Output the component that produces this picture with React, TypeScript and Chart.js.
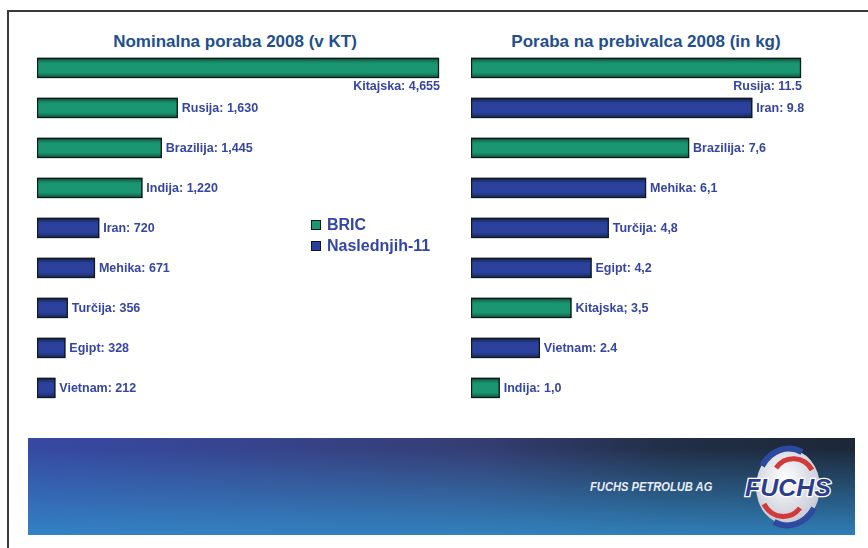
import React, { useEffect, useRef } from "react";
import { Chart, registerables } from "chart.js";

Chart.register(...registerables);

// ---- Data ----
const leftTitle = "Nominalna poraba 2008 (v KT)";
const leftCategories = ["Kitajska", "Rusija", "Brazilija", "Indija", "Iran", "Mehika", "Turčija", "Egipt", "Vietnam"];
const leftValues = [4655, 1630, 1445, 1220, 720, 671, 356, 328, 212];
const leftGroups = ["BRIC", "BRIC", "BRIC", "BRIC", "N11", "N11", "N11", "N11", "N11"];
const leftLabels = ["Kitajska: 4,655", "Rusija: 1,630", "Brazilija: 1,445", "Indija: 1,220", "Iran: 720", "Mehika: 671", "Turčija: 356", "Egipt: 328", "Vietnam: 212"];

const rightTitle = "Poraba na prebivalca 2008 (in kg)";
const rightCategories = ["Rusija", "Iran", "Brazilija", "Mehika", "Turčija", "Egipt", "Kitajska", "Vietnam", "Indija"];
const rightValues = [11.5, 9.8, 7.6, 6.1, 4.8, 4.2, 3.5, 2.4, 1.0];
const rightGroups = ["BRIC", "N11", "BRIC", "N11", "N11", "N11", "BRIC", "N11", "BRIC"];
const rightLabels = ["Rusija: 11.5", "Iran: 9.8", "Brazilija: 7,6", "Mehika: 6,1", "Turčija: 4,8", "Egipt: 4,2", "Kitajska; 3,5", "Vietnam: 2.4", "Indija: 1,0"];

const legendKeys = ["BRIC", "N11"];
const legendNames = ["BRIC", "Naslednjih-11"];

const groupColors: Record<string, string> = { BRIC: "#1a9670", N11: "#2b419c" };
const FONT = "'Liberation Sans', Arial, Helvetica, sans-serif";
const LABEL_COLOR = "#3545a3";

const barDecor = {
  id: "barDecor",
  afterDatasetsDraw(chart: any, _args: any, opts: any) {
    const ctx = chart.ctx as CanvasRenderingContext2D;
    const meta = chart.getDatasetMeta(0);
    const labels: string[] = opts.labels || [];
    meta.data.forEach((el: any, i: number) => {
      const { x, y, base, height } = el.getProps(["x", "y", "base", "height"], true);
      const top = y - height / 2;
      const left = Math.min(base, x);
      const w = Math.abs(x - base);
      ctx.save();
      const g = ctx.createLinearGradient(0, top, 0, top + height);
      g.addColorStop(0, "rgba(0,0,0,0.45)");
      g.addColorStop(0.28, "rgba(0,0,0,0)");
      g.addColorStop(0.72, "rgba(0,0,0,0)");
      g.addColorStop(1, "rgba(0,0,0,0.45)");
      ctx.fillStyle = g;
      ctx.fillRect(left, top, w, height);
      ctx.strokeStyle = "#0d1a1a";
      ctx.lineWidth = 1.3;
      ctx.strokeRect(left + 0.5, top + 0.5, w - 1, height - 1);
      ctx.strokeStyle = "#a8a8a8";
      ctx.lineWidth = 1;
      ctx.beginPath();
      ctx.moveTo(left - 0.5, top + height);
      ctx.lineTo(left - 0.5, top - 0.5);
      ctx.lineTo(left + w, top - 0.5);
      ctx.stroke();
      // label
      ctx.fillStyle = LABEL_COLOR;
      ctx.font = `bold 12.5px ${FONT}`;
      ctx.textBaseline = "middle";
      if (i === 0) {
        ctx.textAlign = "right";
        ctx.fillText(labels[i] || "", x + 1, y + 19);
      } else {
        ctx.textAlign = "left";
        ctx.fillText(labels[i] || "", x + 4, y + 0.5);
      }
      ctx.restore();
    });
  },
};

function BarChart(props: {
  categories: string[];
  values: number[];
  groups: string[];
  labels: string[];
  max: number;
  width: number;
  height: number;
  padRight: number;
  style: React.CSSProperties;
}) {
  const ref = useRef<HTMLCanvasElement | null>(null);
  useEffect(() => {
    if (!ref.current) return;
    const chart = new Chart(ref.current, {
      type: "bar",
      data: {
        labels: props.categories,
        datasets: [
          {
            data: props.values,
            backgroundColor: props.groups.map((g) => groupColors[g]),
            borderWidth: 0,
            categoryPercentage: 1,
            barPercentage: 0.5,
          },
        ],
      },
      options: {
        indexAxis: "y",
        animation: false,
        responsive: false,
        layout: { padding: { left: 0, right: props.padRight, top: 0, bottom: 0 } },
        scales: {
          x: { display: false, min: 0, max: props.max },
          y: { display: false },
        },
        plugins: {
          legend: { display: false },
          tooltip: { enabled: false },
          barDecor: { labels: props.labels },
        } as any,
      },
      plugins: [barDecor],
    });
    return () => chart.destroy();
  }, []);
  return <canvas ref={ref} width={props.width} height={props.height} style={{ position: "absolute", ...props.style }} />;
}

function Logo() {
  return (
    <svg width={96} height={86} viewBox="0 0 96 86" style={{ position: "absolute", left: 740, top: 444 }}>
      <defs>
        <radialGradient id="lg" cx="45%" cy="40%" r="60%">
          <stop offset="0%" stopColor="#ffffff" />
          <stop offset="100%" stopColor="#c6cad6" />
        </radialGradient>
      </defs>
      <ellipse cx={48} cy={43} rx={32} ry={38} fill="url(#lg)" />
      <path d="M 22 22 A 32 38 0 0 1 62 8" fill="none" stroke="#2d4aa0" strokeWidth={6} />
      <path d="M 36 24 A 22 24 0 0 1 72 26" fill="none" stroke="#d23a3a" strokeWidth={5} />
      <path d="M 24 60 A 22 24 0 0 0 60 64" fill="none" stroke="#d23a3a" strokeWidth={5} />
      <path d="M 34 78 A 32 38 0 0 0 74 64" fill="none" stroke="#2d4aa0" strokeWidth={6} />
      <text
        x={48}
        y={52}
        textAnchor="middle"
        fontFamily={FONT}
        fontWeight="bold"
        fontStyle="italic"
        fontSize={24}
        textLength={86}
        lengthAdjust="spacingAndGlyphs"
        fill="#2c3d8c"
        stroke="#ffffff"
        strokeWidth={2.5}
        paintOrder="stroke"
      >
        FUCHS
      </text>
    </svg>
  );
}

export default function App() {
  const titleStyle: React.CSSProperties = {
    position: "absolute",
    top: 32,
    width: 400,
    textAlign: "center",
    fontFamily: FONT,
    fontWeight: "bold",
    fontSize: 17,
    lineHeight: "20px",
    color: "#1f4f8f",
    whiteSpace: "nowrap",
  };
  return (
    <div style={{ position: "absolute", left: 0, top: 0, width: 868, height: 548, background: "#ffffff", overflow: "hidden" }}>
      <div style={{ position: "absolute", left: 7, top: 10, right: -4, bottom: -4, borderTop: "2px solid #3a3a3a", borderLeft: "2px solid #3a3a3a" }} />
      <div style={{ ...titleStyle, left: 235 - 200 }}>{leftTitle}</div>
      <div style={{ ...titleStyle, left: 646 - 200 }}>{rightTitle}</div>
      <BarChart
        categories={leftCategories}
        values={leftValues}
        groups={leftGroups}
        labels={leftLabels}
        max={4655}
        width={410}
        height={360}
        padRight={8}
        style={{ left: 37, top: 48 }}
      />
      <BarChart
        categories={rightCategories}
        values={rightValues}
        groups={rightGroups}
        labels={rightLabels}
        max={11.5}
        width={345}
        height={360}
        padRight={15}
        style={{ left: 471, top: 48 }}
      />
      {legendKeys.map((k, i) => (
        <div key={k} style={{ position: "absolute", left: 311, top: 215 + i * 21, height: 20, display: "flex", alignItems: "center" }}>
          <div style={{ width: 8, height: 8, background: groupColors[k], border: "1px solid #101818", marginRight: 6 }} />
          <span style={{ fontFamily: FONT, fontWeight: "bold", fontSize: 16, color: "#3446a5", whiteSpace: "nowrap" }}>{legendNames[i]}</span>
        </div>
      ))}
      <div
        style={{
          position: "absolute",
          left: 28,
          top: 438,
          width: 827,
          height: 97,
          background:
            "linear-gradient(to bottom, rgba(48,140,205,0) 10%, rgba(50,138,200,0.88) 100%), linear-gradient(to right, #3649a3 0%, #37438a 30%, #343d72 55%, #222e46 78%, #1c2738 100%)",
        }}
      />
      <div
        style={{
          position: "absolute",
          left: 590,
          top: 479,
          fontFamily: FONT,
          fontWeight: "bold",
          fontStyle: "italic",
          fontSize: 12,
          lineHeight: "16px",
          color: "#e8ecf4",
          whiteSpace: "nowrap",
          transform: "scaleX(0.93)",
          transformOrigin: "left center",
        }}
      >
        FUCHS PETROLUB AG
      </div>
      <Logo />
    </div>
  );
}
